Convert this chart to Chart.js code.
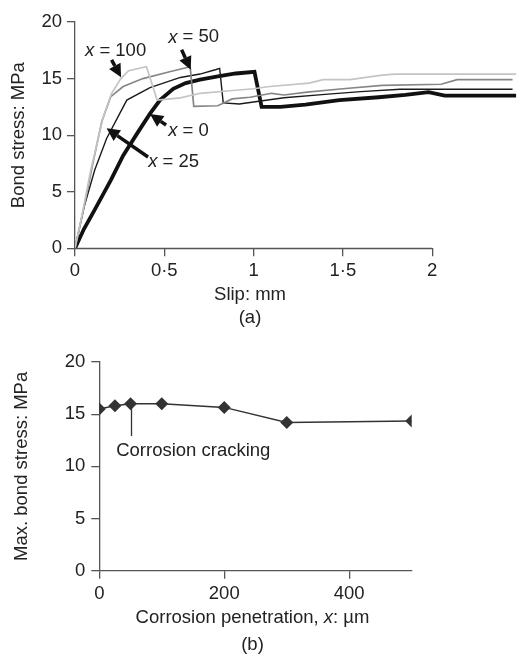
<!DOCTYPE html>
<html>
<head>
<meta charset="utf-8">
<script src="https://cdn.jsdelivr.net/npm/chart.js@4.4.1/dist/chart.umd.min.js"></script>
<style>
  body { margin: 0; background: #fff; width: 518px; height: 656px; position: relative; overflow: hidden; }
  canvas { position: absolute; left: 0; }
  #chartA { top: 0; }
  #chartB { top: 340px; }
</style>
</head>
<body>
<canvas id="chartA" width="518" height="330"></canvas>
<canvas id="chartB" width="518" height="316"></canvas>
<script>
// (a) bond stress vs slip, one curve per corrosion penetration x (µm)
const slip100   = [0, 0.04, 0.088, 0.158, 0.205, 0.257, 0.30, 0.40, 0.46, 0.59, 0.70, 0.85, 1.0, 1.09, 1.31, 1.39, 1.54, 1.72, 1.79, 2.47];
const stress100 = [0, 3.0, 6.9, 11.6, 13.7, 15.0, 15.7, 16.05, 13.1, 13.3, 13.7, 13.9, 14.1, 14.3, 14.6, 14.9, 14.9, 15.3, 15.4, 15.4];

const slip50   = [0, 0.05, 0.1, 0.15, 0.2, 0.27, 0.38, 0.53, 0.645, 0.665, 0.8, 0.88, 0.98, 1.1, 1.17, 1.3, 1.5, 1.72, 2.05, 2.14, 2.45];
const stress50 = [0, 3.6, 7.5, 11.2, 13.4, 14.3, 15.0, 15.6, 16.05, 12.55, 12.6, 13.2, 13.35, 13.7, 13.55, 13.8, 14.1, 14.4, 14.5, 14.9, 14.9];

const slip25   = [0, 0.05, 0.11, 0.177, 0.29, 0.42, 0.59, 0.7, 0.79, 0.81, 0.83, 0.92, 1.03, 1.17, 1.4, 1.6, 1.82, 2.45];
const stress25 = [0, 3.6, 6.9, 9.7, 13.1, 14.2, 15.1, 15.4, 15.8, 15.9, 12.85, 12.75, 13.0, 13.3, 13.6, 13.85, 14.06, 14.06];

const slip0   = [0, 0.05, 0.11, 0.2, 0.27, 0.35, 0.42, 0.476, 0.55, 0.62, 0.7, 0.8, 0.9, 1.005, 1.045, 1.15, 1.29, 1.48, 1.7, 1.85, 1.98, 2.07, 2.47];
const stress0 = [0, 1.7, 3.4, 6.0, 8.2, 10.2, 11.9, 13.1, 14.1, 14.6, 14.9, 15.2, 15.45, 15.6, 12.5, 12.5, 12.7, 13.1, 13.35, 13.55, 13.8, 13.5, 13.5];

const slipTicks   = [0, 0.5, 1, 1.5, 2];
const stressTicks = [0, 5, 10, 15, 20];

// (b) max bond stress vs corrosion penetration
const penetration = [0, 25, 50, 100, 200, 300, 500];
const maxStress   = [15.5, 15.8, 16.0, 16.0, 15.65, 14.2, 14.35];
const penTicks    = [0, 200, 400];

// curve labels in (a): text start, arrow tail -> arrow head (data units)
const curveLabels = [
  { x: '100', at: [0.056, 17.44], tail: [0.205, 16.65], head: [0.258, 15.12] },
  { x: '50',  at: [0.522, 18.64], tail: [0.597, 17.55], head: [0.648, 15.78] },
  { x: '0',   at: [0.522, 10.39], tail: [0.51, 10.9],   head: [0.42, 11.87] },
  { x: '25',  at: [0.41, 7.66],   tail: [0.409, 8.07],  head: [0.177, 10.61] }
];

const FONT = '"Liberation Sans", Arial, Helvetica, sans-serif';
const FSIZE = 18.5;
const AXIS = '#555';
const TEXT = '#222';
Chart.defaults.font.family = FONT;
Chart.defaults.font.size = FSIZE;
Chart.defaults.color = TEXT;

function toPoints(xs, ys) {
  return xs.map((x, i) => ({ x, y: ys[i] }));
}

function curve(xs, ys, color, width) {
  return {
    data: toPoints(xs, ys),
    borderColor: color,
    borderWidth: width,
    pointRadius: 0,
    tension: 0,
    fill: false
  };
}

function mixedText(ctx, parts, x, y, align) {
  const fonts = parts.map(p => (p.i ? 'italic ' : '') + FSIZE + 'px ' + FONT);
  const widths = parts.map((p, k) => { ctx.font = fonts[k]; return ctx.measureText(p.t).width; });
  const total = widths.reduce((a, b) => a + b, 0);
  let cx = align === 'center' ? x - total / 2 : x;
  ctx.textAlign = 'left';
  ctx.textBaseline = 'middle';
  ctx.fillStyle = TEXT;
  parts.forEach((p, k) => { ctx.font = fonts[k]; ctx.fillText(p.t, cx, y); cx += widths[k]; });
}

function arrow(ctx, x1, y1, x2, y2) {
  const ang = Math.atan2(y2 - y1, x2 - x1);
  const len = 13, half = 6.5;
  const bx = x2 - len * Math.cos(ang), by = y2 - len * Math.sin(ang);
  ctx.strokeStyle = '#111';
  ctx.fillStyle = '#111';
  ctx.lineWidth = 3.5;
  ctx.beginPath(); ctx.moveTo(x1, y1); ctx.lineTo(bx, by); ctx.stroke();
  ctx.beginPath();
  ctx.moveTo(x2, y2);
  ctx.lineTo(bx + half * Math.sin(ang), by - half * Math.cos(ang));
  ctx.lineTo(bx - half * Math.sin(ang), by + half * Math.cos(ang));
  ctx.closePath(); ctx.fill();
}

const annotA = {
  id: 'annotA',
  afterDraw(chart) {
    const { ctx, scales: { x, y }, chartArea } = chart;
    ctx.save();
    // x axis line only spans 0..2
    ctx.strokeStyle = AXIS; ctx.lineWidth = 1.3;
    const yb = Math.round(chartArea.bottom) + 0.5;
    ctx.beginPath(); ctx.moveTo(x.getPixelForValue(0), yb); ctx.lineTo(x.getPixelForValue(2), yb); ctx.stroke();

    curveLabels.forEach(l => {
      arrow(ctx, x.getPixelForValue(l.tail[0]), y.getPixelForValue(l.tail[1]),
                 x.getPixelForValue(l.head[0]), y.getPixelForValue(l.head[1]));
      mixedText(ctx, [{ t: 'x', i: true }, { t: ' = ' + l.x }],
                x.getPixelForValue(l.at[0]), y.getPixelForValue(l.at[1]), 'left');
    });

    mixedText(ctx, [{ t: 'Slip: mm' }], x.getPixelForValue(0.98), 294.5, 'center');
    mixedText(ctx, [{ t: '(a)' }], x.getPixelForValue(0.98), 318, 'center');
    ctx.restore();
  }
};

const annotB = {
  id: 'annotB',
  afterDraw(chart) {
    const { ctx, scales: { x, y }, chartArea } = chart;
    ctx.save();
    // marker for corrosion cracking at x = 50
    ctx.strokeStyle = '#333'; ctx.lineWidth = 1.3;
    const cx = Math.round(x.getPixelForValue(50)) + 0.5;
    ctx.beginPath(); ctx.moveTo(cx, y.getPixelForValue(15.6)); ctx.lineTo(cx, y.getPixelForValue(12.9)); ctx.stroke();
    mixedText(ctx, [{ t: 'Corrosion cracking' }], x.getPixelForValue(27), y.getPixelForValue(11.47), 'left');

    const mid = (chartArea.left + chartArea.right) / 2 - 3;
    mixedText(ctx, [{ t: 'Corrosion penetration, ' }, { t: 'x', i: true }, { t: ': µm' }], mid, 278, 'center');
    mixedText(ctx, [{ t: '(b)' }], mid, 305, 'center');
    ctx.restore();
  }
};

const fixedTicks = list => scale => { scale.ticks = list.map(v => ({ value: v })); };

new Chart(document.getElementById('chartA'), {
  type: 'line',
  data: {
    datasets: [
      curve(slip100, stress100, '#c4c4c4', 1.7),
      curve(slip50, stress50, '#868686', 1.7),
      curve(slip25, stress25, '#1a1a1a', 1.4),
      curve(slip0, stress0, '#111111', 3.8)
    ]
  },
  options: {
    responsive: false,
    animation: false,
    events: [],
    layout: { padding: { left: 0, top: 22, right: 1, bottom: 0 } },
    plugins: { legend: { display: false }, tooltip: { enabled: false } },
    scales: {
      x: {
        type: 'linear', min: 0, max: 2.475,
        afterBuildTicks: fixedTicks(slipTicks),
        afterFit: s => { s.height = 330 - 248.3; },
        border: { display: false },
        grid: { drawOnChartArea: false, tickLength: 8, color: AXIS, lineWidth: 1.3 },
        ticks: { padding: 4, maxRotation: 0, callback: v => String(v).replace('.', '·') }
      },
      y: {
        min: 0, max: 20,
        afterBuildTicks: fixedTicks(stressTicks),
        afterFit: s => { s.width = 75; },
        border: { display: true, color: AXIS, width: 1.3 },
        grid: { drawOnChartArea: false, tickLength: 8, color: AXIS, lineWidth: 1.3 },
        ticks: { padding: 5 },
        title: { display: true, text: 'Bond stress: MPa', padding: { top: 7.5, bottom: 0 } }
      }
    }
  },
  plugins: [annotA]
});

new Chart(document.getElementById('chartB'), {
  type: 'line',
  data: {
    datasets: [{
      data: toPoints(penetration, maxStress),
      borderColor: '#333',
      borderWidth: 1.5,
      backgroundColor: '#333',
      pointStyle: 'rectRot',
      pointRadius: 6.5,
      pointBorderWidth: 0,
      tension: 0
    }]
  },
  options: {
    responsive: false,
    animation: false,
    events: [],
    layout: { padding: { left: 0, top: 22, right: 518 - 411.7, bottom: 0 } },
    plugins: { legend: { display: false }, tooltip: { enabled: false } },
    scales: {
      x: {
        type: 'linear', min: 0, max: 500,
        afterBuildTicks: fixedTicks(penTicks),
        afterFit: s => { s.height = 316 - 230.7; },
        border: { display: true, color: AXIS, width: 1.3 },
        grid: { drawOnChartArea: false, tickLength: 8, color: AXIS, lineWidth: 1.3 },
        ticks: { padding: 4, maxRotation: 0 }
      },
      y: {
        min: 0, max: 20,
        afterBuildTicks: fixedTicks(stressTicks),
        afterFit: s => { s.width = 99.3; },
        border: { display: true, color: AXIS, width: 1.3 },
        grid: { drawOnChartArea: false, tickLength: 8, color: AXIS, lineWidth: 1.3 },
        ticks: { padding: 6 },
        title: { display: true, text: 'Max. bond stress: MPa', padding: { top: 11, bottom: 0 } }
      }
    }
  },
  plugins: [annotB]
});
</script>
</body>
</html>
